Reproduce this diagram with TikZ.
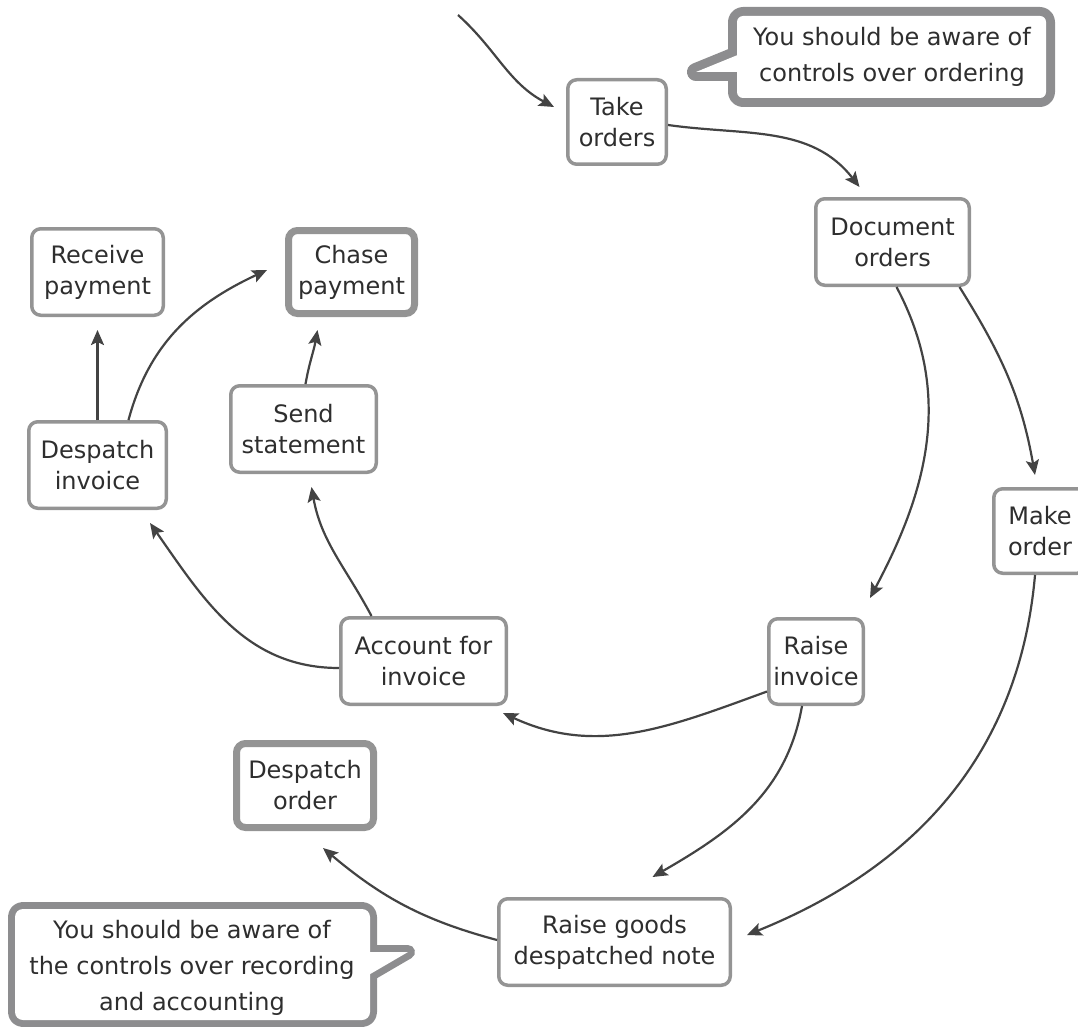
\documentclass[tikz,border=0pt]{standalone}
\usepackage{fontspec}
\setmainfont{DejaVu Sans}
\usetikzlibrary{arrows.meta,calc}
\definecolor{boxc}{HTML}{949494}
\definecolor{callc}{HTML}{8D8D8F}
\definecolor{arrc}{HTML}{434343}
\definecolor{txtc}{HTML}{2E2E2E}
\begin{document}
\begin{tikzpicture}[x=1pt,y=1pt,
  stepbox/.style args={#1/#2}{draw=boxc, line width=3.5pt, rounded corners=9pt,
    fill=white, text=txtc, align=center, inner sep=0pt,
    font=\fontsize{24}{31}\selectfont,
    minimum width=#1-3.5pt, minimum height=#2-3.5pt},
  keybox/.style args={#1/#2}{stepbox={#1/#2}, line width=7pt,
    minimum width=#1-7pt, minimum height=#2-7pt},
  conn/.style={draw=arrc, line width=2.2pt,
    -{Stealth[length=15pt,width=13pt,inset=3pt]}},
  calltext/.style={text=txtc, align=center, inner sep=0pt,
    font=\fontsize{24}{36}\selectfont},
]
\useasboundingbox (0,0) rectangle (1078,-1027);
\clip (0,0) rectangle (1078,-1027);

% ---- process steps ----
\node[stepbox={102/88}] (to)  at (617,-122)   {Take\\orders};
\node[stepbox={157/90}] (do)  at (892.5,-242) {Document\\orders};
\node[stepbox={96/88}]  (mo)  at (1040,-531)  {Make\\order};
\node[stepbox={98/89}]  (ri)  at (816,-661.5) {Raise\\invoice};
\node[stepbox={169/90}] (afi) at (423.5,-661)  {Account for\\invoice};
\node[stepbox={149/90}] (ss)  at (303.5,-429) {Send\\statement};
\node[keybox={133/90}]  (cp)  at (351.5,-272) {Chase\\payment};
\node[stepbox={135/90}] (rp)  at (97.5,-272)  {Receive\\payment};
\node[stepbox={141/90}] (di)  at (97.5,-465)  {Despatch\\invoice};
\node[keybox={144/91}]  (dor) at (305,-785.5) {Despatch\\order};
\node[stepbox={235/90}] (rg)  at (614.5,-942) {Raise goods\\despatched note};

% ---- connectors ----
\coordinate (entry) at (458,-15);
\draw[conn] (entry) to[out=-42,in=152] ($(to.west)+(-12,15)$);
\draw[conn] ($(to.east)+(0,-3)$) to[out=-8,in=128] ($(do.north)+(-33,10)$);
\draw[conn] ($(do.south)+(67,0)$) to[out=-58,in=100] ($(mo.north)+(-5,12)$);
\draw[conn] ($(do.south)+(4,0)$) to[out=-62,in=62] ($(ri.north east)+(5,19)$);
\draw[conn] ($(mo.south)+(-5,0)$) to[out=-95,in=22] ($(rg.east)+(15,7)$);
\draw[conn] ($(ri.west)+(0,-30)$) to[out=200,in=-25] ($(afi.south east)+(-5,-7)$);
\draw[conn] ($(ri.south)+(-14,0)$) to[out=-100,in=30] ($(rg.north)+(38,20)$);
\draw[conn] ($(afi.west)+(0,-7)$) to[out=180,in=-55] ($(di.south east)+(-18,-13)$);
\draw[conn] ($(afi.north)+(-52,0)$) to[out=118,in=-80] ($(ss.south)+(8,-13)$);
\draw[conn] ($(ss.north)+(2,0)$) to[out=80,in=-100] ($(cp.south)+(-34,-13)$);
\draw[conn, shorten >=13pt] (di.north) -- (rp.south);
\draw[conn] ($(di.north)+(31,0)$) to[out=75,in=205] ($(cp.west)+(-18,2)$);
\draw[conn] ($(rg.west)+(0,2)$) to[out=165,in=-40] ($(dor.south)+(18,-17)$);

% ---- callout: ordering ----
\begin{scope}[line join=round]
  \draw[callc, line width=18pt, rounded corners=6pt] (737,-16) rectangle (1046,-98);
  \draw[callc, line width=18pt] (745,-52) -- (696,-72) -- (745,-72) -- cycle;
  \fill[white, rounded corners=6pt] (737,-16) rectangle (1046,-98);
  \fill[white] (745,-52) -- (696,-72) -- (745,-72) -- cycle;
\end{scope}
\node[calltext] (c1) at (892,-57) {You should be aware of\\controls over ordering};

% ---- callout: recording and accounting ----
\begin{scope}[line join=round]
  \draw[callc, line width=14pt, rounded corners=8pt] (15,-909) rectangle (370,-1020);
  \draw[callc, line width=14pt] (360,-952) -- (408,-952) -- (360,-980) -- cycle;
  \fill[white, rounded corners=8pt] (15,-909) rectangle (370,-1020);
  \fill[white] (360,-952) -- (408,-952) -- (360,-980) -- cycle;
\end{scope}
\node[calltext] (c2) at (192,-968) {You should be aware of\\the controls over recording\\and accounting};
\end{tikzpicture}
\end{document}
